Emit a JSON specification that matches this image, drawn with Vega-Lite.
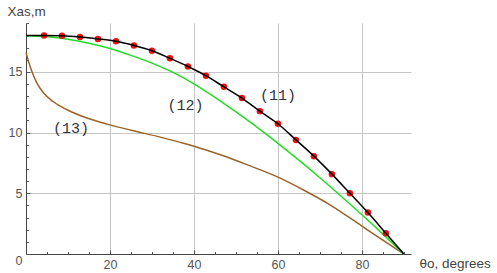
{
  "$schema": "https://vega.github.io/schema/vega-lite/v6.json",
  "width": 385,
  "height": 231,
  "autosize": {"type": "none"},
  "padding": {"left": 26, "top": 23, "right": 86, "bottom": 19},
  "background": "white",
  "config": {
    "view": {"stroke": null},
    "axis": {
      "labelFont": "Liberation Sans",
      "titleFont": "Liberation Sans",
      "labelFontSize": 12.5,
      "titleFontSize": 13.5,
      "titleFontWeight": "normal",
      "labelColor": "#555555",
      "titleColor": "#444444",
      "domainColor": "#444444",
      "tickColor": "#555555",
      "gridColor": "#c6c6c6",
      "gridWidth": 1
    }
  },
  "datasets": {
    "c11": [
      {"t": 0, "v": 18.0}, {"t": 4.29, "v": 18.0}, {"t": 8.57, "v": 17.98}, {"t": 12.86, "v": 17.88},
      {"t": 17.14, "v": 17.72}, {"t": 21.43, "v": 17.52}, {"t": 25.71, "v": 17.18}, {"t": 30.0, "v": 16.75},
      {"t": 34.29, "v": 16.12}, {"t": 38.57, "v": 15.45}, {"t": 42.86, "v": 14.69}, {"t": 47.14, "v": 13.77},
      {"t": 51.43, "v": 12.85}, {"t": 55.71, "v": 11.77}, {"t": 60.0, "v": 10.73}, {"t": 64.29, "v": 9.4},
      {"t": 68.57, "v": 8.06}, {"t": 72.86, "v": 6.58}, {"t": 77.14, "v": 5.0}, {"t": 81.43, "v": 3.41},
      {"t": 85.71, "v": 1.71}, {"t": 90.0, "v": 0}
    ],
    "pts": [
      {"t": 4.29, "v": 18.0}, {"t": 8.57, "v": 17.98}, {"t": 12.86, "v": 17.88},
      {"t": 17.14, "v": 17.72}, {"t": 21.43, "v": 17.52}, {"t": 25.71, "v": 17.18}, {"t": 30.0, "v": 16.75},
      {"t": 34.29, "v": 16.12}, {"t": 38.57, "v": 15.45}, {"t": 42.86, "v": 14.69}, {"t": 47.14, "v": 13.77},
      {"t": 51.43, "v": 12.85}, {"t": 55.71, "v": 11.77}, {"t": 60.0, "v": 10.73}, {"t": 64.29, "v": 9.4},
      {"t": 68.57, "v": 8.06}, {"t": 72.86, "v": 6.58}, {"t": 77.14, "v": 5.0}, {"t": 81.43, "v": 3.41},
      {"t": 85.71, "v": 1.71}
    ],
    "c12": [
      {"t": 0, "v": 17.98}, {"t": 5, "v": 17.9}, {"t": 10, "v": 17.7}, {"t": 15, "v": 17.37},
      {"t": 20, "v": 16.93}, {"t": 25, "v": 16.36}, {"t": 30, "v": 15.72}, {"t": 35, "v": 14.96},
      {"t": 40, "v": 14.02}, {"t": 45, "v": 12.9}, {"t": 50, "v": 11.7}, {"t": 55, "v": 10.45},
      {"t": 60, "v": 9.12}, {"t": 65, "v": 7.73}, {"t": 70, "v": 6.28}, {"t": 75, "v": 4.78},
      {"t": 80, "v": 3.23}, {"t": 85, "v": 1.64}, {"t": 90, "v": 0}
    ],
    "c13": [
      {"t": 0, "v": 16.6}, {"t": 0.6, "v": 15.87}, {"t": 1.4, "v": 15.04}, {"t": 2.6, "v": 14.08},
      {"t": 4.2, "v": 13.26}, {"t": 6.6, "v": 12.52}, {"t": 9.8, "v": 11.88}, {"t": 14.5, "v": 11.2},
      {"t": 19.3, "v": 10.7}, {"t": 25, "v": 10.2}, {"t": 32, "v": 9.63}, {"t": 37.5, "v": 9.13},
      {"t": 40, "v": 8.88}, {"t": 46.3, "v": 8.17}, {"t": 52.6, "v": 7.36}, {"t": 59.9, "v": 6.35},
      {"t": 66.1, "v": 5.27}, {"t": 72.5, "v": 4.03}, {"t": 80, "v": 2.3}, {"t": 85, "v": 1.14},
      {"t": 90, "v": 0}
    ],
    "labels": [
      {"t": 60, "v": 13.06, "s": "(11)"},
      {"t": 38, "v": 12.3, "s": "(12)"},
      {"t": 10.7, "v": 10.37, "s": "(13)"}
    ]
  },
  "resolve": {"axis": {"x": "independent", "y": "independent"}},
  "layer": [
    {
      "data": {"name": "c13"},
      "mark": {"type": "line", "color": "#9a6428", "strokeWidth": 1.5, "interpolate": "monotone"},
      "encoding": {
        "x": {"field": "t", "type": "quantitative", "scale": {"domain": [0, 91.7], "nice": false, "zero": false},
          "axis": {"orient": "bottom", "values": [20, 40, 60, 80], "grid": true, "tickSize": -4, "labelPadding": 8,
            "title": "θo, degrees", "titleX": 393, "titleY": 9, "titleAlign": "left", "titleBaseline": "middle", "titleAngle": 0}},
        "y": {"field": "v", "type": "quantitative", "scale": {"domain": [0, 19.03], "nice": false},
          "axis": {"orient": "left", "values": [0, 5, 10, 15], "grid": true, "tickSize": -4, "labelPadding": 8,
            "labelBaseline": {"condition": {"test": "datum.value == 0", "value": "top"}, "value": "middle"},
            "title": "Xas,m", "titleX": -19, "titleY": -12, "titleAlign": "left", "titleBaseline": "middle", "titleAngle": 0}}
      }
    },
    {
      "data": {"name": "c12"},
      "mark": {"type": "line", "color": "#22dd22", "strokeWidth": 1.5, "interpolate": "monotone"},
      "encoding": {
        "x": {"field": "t", "type": "quantitative",
          "axis": {"orient": "bottom", "values": [5, 10, 15, 25, 30, 35, 45, 50, 55, 65, 70, 75, 85, 90], "labels": false, "domain": false, "grid": false, "tickSize": -2.5, "title": null}},
        "y": {"field": "v", "type": "quantitative",
          "axis": {"orient": "left", "values": [1, 2, 3, 4, 6, 7, 8, 9, 11, 12, 13, 14, 16, 17, 18, 19], "labels": false, "domain": false, "grid": false, "tickSize": -2.5, "title": null}}
      }
    },
    {
      "data": {"name": "pts"},
      "mark": {"type": "point", "filled": true, "color": "#ee1111", "size": 42, "opacity": 1},
      "encoding": {
        "x": {"field": "t", "type": "quantitative", "axis": null},
        "y": {"field": "v", "type": "quantitative", "axis": null}
      }
    },
    {
      "data": {"name": "c11"},
      "mark": {"type": "line", "color": "#000000", "strokeWidth": 1.5, "interpolate": "monotone"},
      "encoding": {
        "x": {"field": "t", "type": "quantitative", "axis": null},
        "y": {"field": "v", "type": "quantitative", "axis": null}
      }
    },
    {
      "data": {"name": "labels"},
      "mark": {"type": "text", "font": "Liberation Mono", "fontSize": 15, "color": "#333344", "align": "center", "baseline": "middle"},
      "encoding": {
        "x": {"field": "t", "type": "quantitative", "axis": null},
        "y": {"field": "v", "type": "quantitative", "axis": null},
        "text": {"field": "s"}
      }
    }
  ]
}
